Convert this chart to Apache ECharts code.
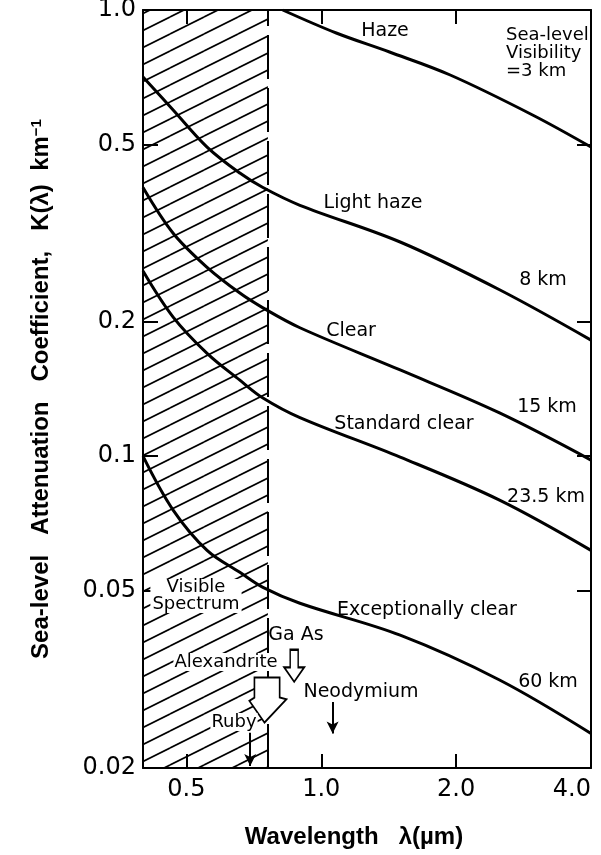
<!DOCTYPE html>
<html><head><meta charset="utf-8">
<script src="https://cdn.jsdelivr.net/npm/echarts@6/dist/echarts.min.js"></script>
<style>html,body{margin:0;padding:0;background:#fff}#c{width:601px;height:855px}</style>
</head><body><div id="c"></div>
<script>
// ---- data ----
const wavelengthTicks = [0.5, 1.0, 2.0, 4.0];
const wavelengthTickLabels = ['0.5', '1.0', '2.0', '4.0'];
const kTicks = [0.02, 0.05, 0.1, 0.2, 0.5, 1.0];
const kTickLabels = ['0.02', '0.05', '0.1', '0.2', '0.5', '1.0'];

const hazeWavelength = [0.82, 1.08, 1.42, 1.94, 2.97, 4.0];
const hazeK = [1.0, 0.888, 0.805, 0.715, 0.581, 0.493];

const wavelength = [0.4, 0.467, 0.556, 0.658, 0.741, 0.896, 1.5, 2.5, 4.0];
const lightHazeK = [0.708, 0.597, 0.493, 0.431, 0.400, 0.365, 0.302, 0.236, 0.182];
const clearK = [0.400, 0.316, 0.265, 0.232, 0.215, 0.194, 0.156, 0.125, 0.098];
const standardClearK = [0.260, 0.205, 0.170, 0.148, 0.135, 0.122, 0.0995, 0.0797, 0.0615];
const exceptionallyClearK = [0.100, 0.0757, 0.0615, 0.0549, 0.0508, 0.0468, 0.0397, 0.0315, 0.0239];

const visibleRange = [0.4, 0.76];
const laserNames = ['Ruby', 'Alexandrite', 'GaAs', 'Neodymium'];
const laserWavelengths = [0.694, 0.76, 0.87, 1.06];

// ---- chart ----
const FONT = 'DejaVu Sans';
const TITLE_FONT = 'Liberation Sans';
function pairs(xs, ys) { return xs.map((x, i) => [x, ys[i]]); }
function fmt(ticks, labels) {
  return v => { const i = ticks.findIndex(t => Math.abs(t - v) / t < 1e-6); return i < 0 ? '' : labels[i]; };
}
function hatch() {
  const W = 34, H = 17;
  const c = document.createElement('canvas'); c.width = W; c.height = H;
  const g = c.getContext('2d');
  g.strokeStyle = '#000'; g.lineWidth = 1.7;
  [[0,0],[-W,0],[W,0],[0,-H],[0,H]].forEach(([dx,dy]) => {
    g.beginPath(); g.moveTo(dx, H + dy); g.lineTo(W + dx, dy); g.stroke();
  });
  return c;
}
const axisLine = {show: true, lineStyle: {color: '#000', width: 2}};
const tickStyle = {color: '#000', width: 2};
const lineStyle = {color: '#000', width: 3};
const SMOOTH = 0.35;

const chart = echarts.init(document.getElementById('c'), null, {renderer: 'canvas'});
const lw = i => laserWavelengths[laserNames.indexOf(i)];
const hollowArrow = 'path://M30,0L70,0L70,55L100,55L50,100L0,55L30,55Z';
const alexArrow = 'path://M15,0L90,0L90,60L110,65L45,135L0,70L15,60Z';

function text(t, x, y, opts) {
  return Object.assign({type: 'text', x: x, y: y, z: 100,
    style: Object.assign({text: t, font: '19px "DejaVu Sans"', fill: '#000', align: 'center', verticalAlign: 'middle'}, opts || {})});
}
const small = '18px "DejaVu Sans"';

function curve(name, xs, ys, extra) {
  return Object.assign({name: name, type: 'line', data: pairs(xs, ys), smooth: SMOOTH,
    symbol: 'none', lineStyle: lineStyle, z: 5, silent: true}, extra || {});
}

chart.setOption({
  animation: false,
  backgroundColor: '#fff',
  grid: {left: 143, right: 10, top: 10, bottom: 87, containLabel: false, outerBoundsMode: 'none'},
  xAxis: [{
    type: 'log', logBase: 10, min: 0.4, max: 4, position: 'bottom',
    axisLine: axisLine,
    axisTick: {show: true, inside: true, length: 14, lineStyle: tickStyle, customValues: wavelengthTicks},
    minorTick: {show: false}, splitLine: {show: false},
    axisLabel: {customValues: wavelengthTicks, formatter: fmt(wavelengthTicks, wavelengthTickLabels),
      fontFamily: FONT, fontSize: 24, color: '#000', margin: 10, alignMaxLabel: 'right'},
    name: 'Wavelength   λ(µm)', nameLocation: 'middle', nameGap: 57,
    nameTextStyle: {fontFamily: TITLE_FONT, fontWeight: 'bold', fontSize: 24, color: '#000', padding: [0, 26, 0, 0]}
  }, {
    type: 'log', logBase: 10, min: 0.4, max: 4, position: 'top',
    axisLine: axisLine,
    axisTick: {show: true, inside: true, length: 14, lineStyle: tickStyle, customValues: [0.5, 1, 2]},
    axisLabel: {show: false}, splitLine: {show: false}, minorTick: {show: false}
  }],
  yAxis: [{
    type: 'log', logBase: 10, min: 0.02, max: 1, position: 'left',
    axisLine: axisLine,
    axisTick: {show: true, inside: true, length: 15, lineStyle: tickStyle, customValues: kTicks},
    minorTick: {show: false}, splitLine: {show: false},
    axisLabel: {customValues: kTicks, formatter: fmt(kTicks, kTickLabels),
      fontFamily: FONT, fontSize: 24, color: '#000', margin: 7},
    name: 'Sea-level   Attenuation   Coefficient,   K(λ)  km{sup|−1}', nameLocation: 'middle', nameGap: 90,
    nameTextStyle: {fontFamily: TITLE_FONT, fontWeight: 'bold', fontSize: 24, color: '#000',
      rich: {sup: {fontFamily: TITLE_FONT, fontWeight: 'bold', fontSize: 15, color: '#000', verticalAlign: 'top', lineHeight: 24}}}
  }, {
    type: 'log', logBase: 10, min: 0.02, max: 1, position: 'right',
    axisLine: axisLine,
    axisTick: {show: true, inside: true, length: 14, lineStyle: tickStyle, customValues: [0.05, 0.1, 0.2, 0.5]},
    axisLabel: {show: false}, splitLine: {show: false}, minorTick: {show: false}
  }],
  series: [
    curve('Haze', hazeWavelength, hazeK, {
      markArea: {silent: true, label: {show: false},
        itemStyle: {color: {image: hatch(), repeat: 'repeat'}, opacity: 1},
        data: [[{xAxis: visibleRange[0]}, {xAxis: visibleRange[1]}]]},
      markLine: {silent: true, symbol: ['none', 'none'], label: {show: false},
        lineStyle: {color: '#000', width: 2, type: [44, 9]},
        data: [{xAxis: visibleRange[1]}]}
    }),
    curve('Light haze', wavelength, lightHazeK),
    curve('Clear', wavelength, clearK),
    curve('Standard clear', wavelength, standardClearK),
    curve('Exceptionally clear', wavelength, exceptionallyClearK, {
      markLine: {silent: true, symbol: ['none', 'arrow'], symbolSize: [9, 12], label: {show: false},
        lineStyle: {color: '#000', width: 2, type: 'solid'},
        data: [
          [{coord: [lw('Ruby'), 0.0240]}, {coord: [lw('Ruby'), 0.0202]}],
          [{coord: [lw('Neodymium'), 0.0281]}, {coord: [lw('Neodymium'), 0.0239]}]
        ]},
      markPoint: {silent: true, label: {show: false},
        itemStyle: {color: '#fff', borderColor: '#000', borderWidth: 1.8},
        data: [
          {coord: [lw('GaAs'), 0.0339], symbol: hollowArrow, symbolSize: [20, 32]},
          {coord: [lw('Alexandrite'), 0.0284], symbol: alexArrow, symbolSize: [37, 45]}
        ]}
    })
  ],
  graphic: [
    text('Haze', 385, 31),
    text('Sea-level\nVisibility\n=3 km', 506, 53, {align: 'left', lineHeight: 18, font: small}),
    text('Light haze', 373, 203),
    text('8 km', 543, 280),
    text('Clear', 351, 331),
    text('15 km', 547, 407),
    text('Standard clear', 404, 424),
    text('23.5 km', 546, 497),
    text('Exceptionally clear', 427, 610),
    text('60 km', 548, 682),
    text('Visible\nSpectrum', 196, 596, {lineHeight: 17, backgroundColor: '#fff', padding: [0, 2], font: small}),
    text('Ga As', 296, 635),
    text('Alexandrite', 226, 662, {backgroundColor: '#fff', padding: [0, 1], font: small}),
    text('Ruby', 234, 722, {backgroundColor: '#fff', padding: [0, 1], font: small}),
    text('Neodymium', 361, 692)
  ]
});
</script></body></html>
